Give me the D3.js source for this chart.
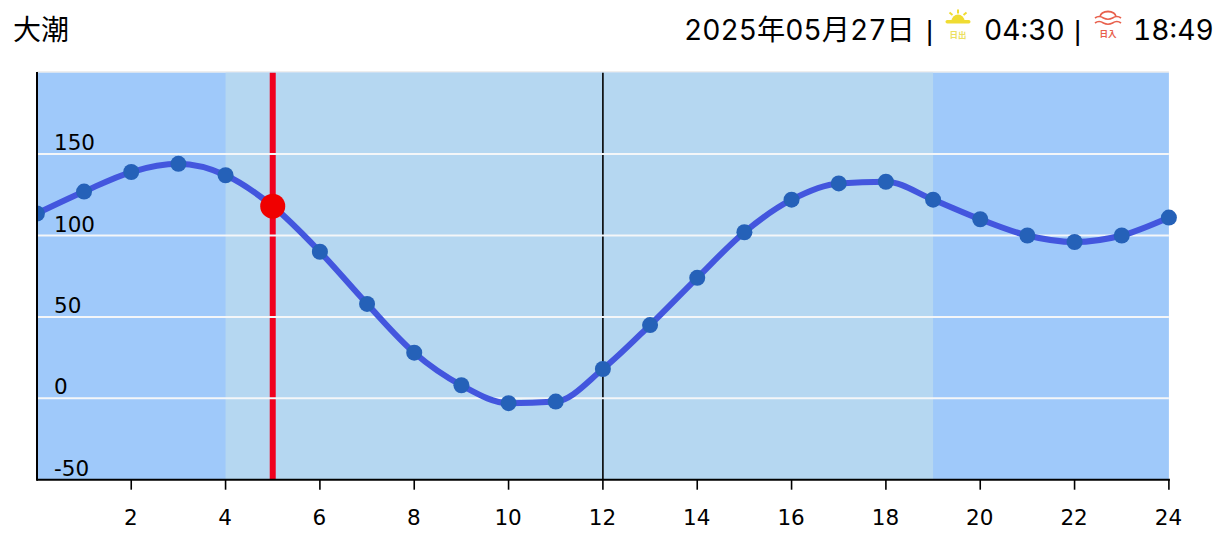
<!DOCTYPE html>
<html><head><meta charset="utf-8">
<style>html,body{margin:0;padding:0;background:#fff}svg{display:block}</style>
<script src="https://cdnjs.cloudflare.com/ajax/libs/d3/7.8.5/d3.min.js"></script>
</head><body><svg id="c" width="1230" height="551"></svg>
<script>
const hours=d3.range(0,25);
const tide=[113.5,127,139,144,137,118,90,58,28,8,-3,-2,18,45,74,102,122,132,133,122,110,100,96,100,111];
const xTicks=[2,4,6,8,10,12,14,16,18,20,22,24];
const yTicks=[150,100,50,0,-50];
const sunBand=[4,19];
const currentHour=5;
const currentValue=118;
const title="大潮", dateText="2025年05月27日", sunrise="04:30", sunset="18:49";

const svg=d3.select("#c");
const x=d3.scaleLinear().domain([0,24]).range([36.9,1168.9]);
const y=d3.scaleLinear().domain([-50,200]).range([479.7,72.7]);
const head="'Inter','Noto Sans CJK JP',sans-serif";
const axisF="'DejaVu Sans',sans-serif";

svg.append("rect").attr("x",x(0)).attr("width",x(24)-x(0)).attr("y",71).attr("height",2).attr("fill","#eeeeee");
svg.append("rect").attr("x",x(0)).attr("width",x(24)-x(0)).attr("y",y(200)).attr("height",y(-50)-y(200)).attr("fill","#9fc9fa");
svg.append("rect").attr("x",x(sunBand[0])).attr("width",x(sunBand[1])-x(sunBand[0])).attr("y",y(200)).attr("height",y(-50)-y(200)).attr("fill","#b5d7f1");

svg.append("line").attr("x1",x(12)).attr("x2",x(12)).attr("y1",y(200)).attr("y2",y(-50)).attr("stroke","#000").attr("stroke-width",1.6);
svg.append("line").attr("x1",x(currentHour)).attr("x2",x(currentHour)).attr("y1",y(200)).attr("y2",y(-50)).attr("stroke","#f0001e").attr("stroke-width",6);

svg.selectAll(".grid").data(yTicks.filter(d=>d>-50)).join("line")
  .attr("x1",x(0)).attr("x2",x(24)).attr("y1",d=>y(d)).attr("y2",d=>y(d)).attr("stroke","#f4f6f8").attr("stroke-width",2);

const clip=svg.append("defs").append("clipPath").attr("id","pl");
clip.append("rect").attr("x",x(0)).attr("width",x(24)-x(0)+14).attr("y",60).attr("height",430);
const g=svg.append("g").attr("clip-path","url(#pl)");
const line=d3.line().x((d,i)=>x(hours[i])).y(d=>y(d)).curve(d3.curveMonotoneX);
g.append("path").attr("d",line(tide)).attr("fill","none").attr("stroke","#4356de").attr("stroke-width",6);
g.selectAll("circle").data(tide).join("circle").attr("cx",(d,i)=>x(hours[i])).attr("cy",d=>y(d)).attr("r",8).attr("fill","#2561b8");
svg.append("circle").attr("cx",x(currentHour)).attr("cy",y(currentValue)).attr("r",12.5).attr("fill","#f00000");

svg.append("line").attr("x1",x(0)+.1).attr("x2",x(0)+.1).attr("y1",72).attr("y2",y(-50)+1).attr("stroke","#000").attr("stroke-width",2);
svg.append("line").attr("x1",x(0)).attr("x2",x(24)+1).attr("y1",y(-50)).attr("y2",y(-50)).attr("stroke","#000").attr("stroke-width",2);
svg.selectAll(".xt").data(xTicks).join("line").attr("x1",d=>x(d)).attr("x2",d=>x(d)).attr("y1",y(-50)).attr("y2",y(-50)+10).attr("stroke","#000").attr("stroke-width",1.6);
svg.selectAll(".xl").data(xTicks).join("text").attr("x",d=>x(d)-0.5).attr("y",525).attr("text-anchor","middle").attr("font-family",axisF).attr("font-size",21.5).attr("fill","#000").text(d=>d);
svg.selectAll(".yl").data(yTicks).join("text").attr("x",54).attr("y",d=>d===-50?476:y(d)-4).attr("font-family",axisF).attr("font-size",21.5).attr("fill","#000").text(d=>d);

const ht=(t,xp,anchor,size,fam)=>svg.append("text").attr("x",xp).attr("y",40).attr("text-anchor",anchor||"start").attr("font-family",fam||head).attr("font-size",size||26).attr("fill","#000").style("font-variant-numeric","tabular-nums").text(t);
ht(title,13,"start",28);
ht(dateText,684,"start",28.2);
ht("|",926,"start",28,"'Liberation Sans'");
ht(sunrise,984,"start",28.2);
ht("|",1074,"start",28,"'Liberation Sans'");
ht(sunset,1133,"start",28.2);

// sunrise icon
const C1="#f0dc32";
const si=svg.append("g").attr("transform","translate(958,0)");
si.append("path").attr("d","M-6.5 21 A6.5 6.5 0 0 1 6.5 21 Z").attr("fill",C1);
si.append("rect").attr("x",-12.5).attr("y",20).attr("width",25).attr("height",3.5).attr("rx",1.7).attr("fill",C1);
[[0,9.5,0,13.5],[-8.5,12.5,-5.5,15],[8.5,12.5,5.5,15]].forEach(d=>si.append("line").attr("x1",d[0]).attr("y1",d[1]).attr("x2",d[2]).attr("y2",d[3]).attr("stroke",C1).attr("stroke-width",2));
si.append("text").attr("x",0).attr("y",38).attr("text-anchor","middle").attr("font-size",8.5).attr("font-weight",700).attr("font-family","'Noto Sans CJK JP'").attr("fill","#ece060").text("日出");
// sunset icon
const C2="#e8604c";
const ss=svg.append("g").attr("transform","translate(1108,0)");
ss.append("path").attr("d","M-8 17 A8 5.5 0 0 1 8 17").attr("fill","none").attr("stroke",C2).attr("stroke-width",1.8);
[18,23].forEach(yy=>ss.append("path").attr("d",`M-13 ${yy} Q-9 ${yy-3} -4.5 ${yy} Q0 ${yy+2.5} 4.5 ${yy} Q9 ${yy-3} 13 ${yy}`).attr("fill","none").attr("stroke",C2).attr("stroke-width",1.7));
ss.append("text").attr("x",0).attr("y",37).attr("text-anchor","middle").attr("font-size",8.5).attr("font-weight",700).attr("font-family","'Noto Sans CJK JP'").attr("fill",C2).text("日入");
</script></body></html>
